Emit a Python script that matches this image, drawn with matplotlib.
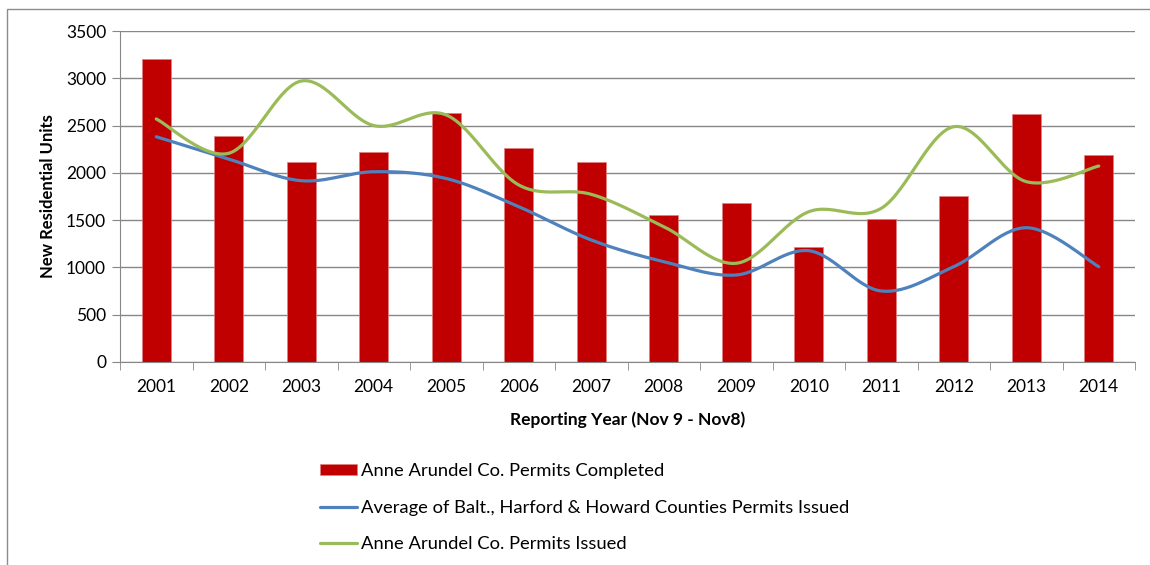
import numpy as np
import matplotlib
matplotlib.use("Agg")
import matplotlib.pyplot as plt
from matplotlib.patches import Rectangle

years = ["2001", "2002", "2003", "2004", "2005", "2006", "2007",
         "2008", "2009", "2010", "2011", "2012", "2013", "2014"]
completed = [3200, 2390, 2110, 2225, 2630, 2260, 2115,
             1550, 1680, 1213, 1512, 1752, 2619, 2192]
avg_issued = [2382, 2146, 1917, 2012, 1940, 1642, 1290,
              1061, 920, 1177, 751, 1008, 1420, 1008]
aa_issued = [2570, 2207, 2971, 2500, 2612, 1872, 1773,
             1431, 1044, 1589, 1625, 2488, 1907, 2072]

plt.rcParams['font.family'] = ['Lato', 'DejaVu Sans']


def smooth(xs, ys, n=30):
    # excel style smoothing: cubic bezier with catmull-rom control points
    xs = np.asarray(xs, float)
    ys = np.asarray(ys, float)
    px = np.concatenate([[xs[0]], xs, [xs[-1]]])
    py = np.concatenate([[ys[0]], ys, [ys[-1]]])
    ox, oy = [], []
    t = np.linspace(0, 1, n)
    for i in range(1, len(px) - 2):
        p0 = np.array([px[i], py[i]])
        p3 = np.array([px[i + 1], py[i + 1]])
        p1 = p0 + (np.array([px[i + 1], py[i + 1]]) - np.array([px[i - 1], py[i - 1]])) / 6
        p2 = p3 - (np.array([px[i + 2], py[i + 2]]) - np.array([px[i], py[i]])) / 6
        b = ((1 - t) ** 3)[:, None] * p0 + (3 * (1 - t) ** 2 * t)[:, None] * p1 \
            + (3 * (1 - t) * t ** 2)[:, None] * p2 + (t ** 3)[:, None] * p3
        ox.extend(b[:, 0])
        oy.extend(b[:, 1])
    return ox, oy


fig = plt.figure(figsize=(11.5, 5.65), dpi=100)
fig.patches.append(Rectangle((7 / 1150, -0.1), 1.2, 1 - 9 / 565 + 0.1,
                             transform=fig.transFigure, fill=False,
                             edgecolor='#8c8c8c', linewidth=1))
ax = fig.add_axes([120 / 1150, 203 / 565, 1015 / 1150, 331 / 565])

x = np.arange(len(years))
bars = ax.bar(x, completed, width=0.4, color='#C00000', edgecolor='#e08080',
              linewidth=0.5, label='Anne Arundel Co. Permits Completed', zorder=2)
sx, sy = smooth(x, avg_issued)
l1, = ax.plot(sx, sy, color='#4F81BD', linewidth=2.3,
              label='Average of Balt., Harford & Howard Counties Permits Issued',
              zorder=3, solid_capstyle='round')
sx, sy = smooth(x, aa_issued)
l2, = ax.plot(sx, sy, color='#9BBB59', linewidth=2.3,
              label='Anne Arundel Co. Permits Issued', zorder=3,
              solid_capstyle='round')

ax.set_xlim(-0.5, len(years) - 0.5)
ax.set_ylim(0, 3500)
ax.set_yticks(np.arange(0, 3501, 500))
ax.yaxis.grid(True, color='#878787', linewidth=1)
ax.set_axisbelow(True)
ax.set_xticks(x)
ax.set_xticklabels(years, fontsize=12.5)
ax.set_xticks(np.arange(-0.5, len(years)), minor=True)
ax.tick_params(axis='x', which='major', length=0, pad=12)
ax.tick_params(axis='x', which='minor', length=6, color='#878787')
ax.tick_params(axis='y', length=6, color='#878787', labelsize=12.5, pad=4)
for s in ['top', 'right']:
    ax.spines[s].set_visible(False)
for s in ['left', 'bottom']:
    ax.spines[s].set_color('#878787')

ax.set_ylabel('New Residential Units', fontsize=12, fontweight='bold', labelpad=7)
ax.set_xlabel('Reporting Year (Nov 9 - Nov8)', fontsize=12.5, fontweight='bold', labelpad=12)

fig.legend(handles=[bars, l1, l2], loc='upper left',
           bbox_to_anchor=(320 / 1150, 1 - 463 / 565), frameon=False,
           fontsize=13.2, labelspacing=1.12, handlelength=2.0,
           handletextpad=0.25, borderpad=0, borderaxespad=0,
           handleheight=0.55)

fig.savefig('out.png', dpi=100)
